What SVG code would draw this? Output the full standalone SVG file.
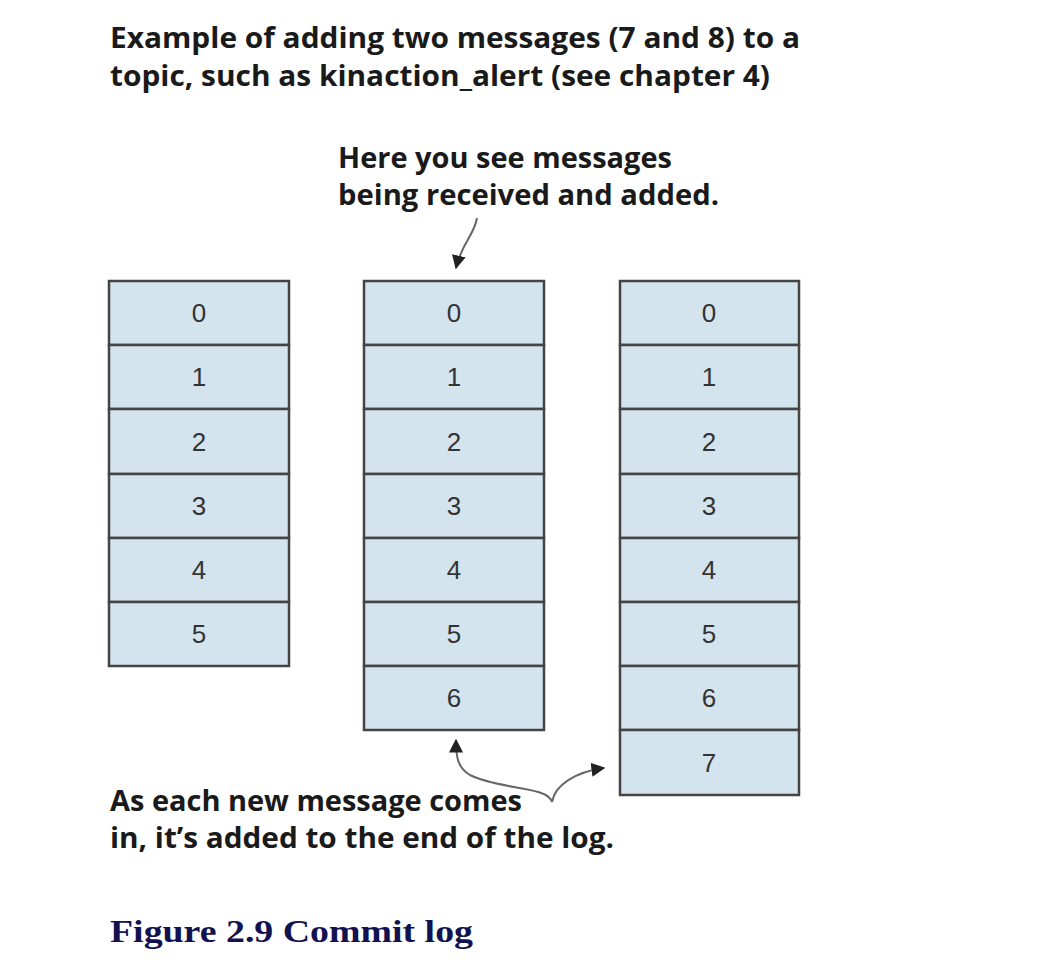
<svg xmlns="http://www.w3.org/2000/svg" width="1046" height="960" viewBox="0 0 1046 960">
<style>
.cell{fill:#d3e4ef;stroke:#444;stroke-width:2.5}
.num{font-family:"Liberation Sans",Arial,sans-serif;font-size:26px;fill:#333;text-anchor:middle}
.ann{font-family:"Open Sans","Liberation Sans",sans-serif;font-weight:bold;font-size:29px;fill:#1a1a1a}
.cap{font-family:"Liberation Serif","Times New Roman",serif;font-weight:bold;font-size:31px;fill:#121250}
.conn{fill:none;stroke:#666;stroke-width:2}
</style>
<defs>
<marker id="ah2" viewBox="0 0 10 10" refX="9" refY="5" markerWidth="14" markerHeight="14" markerUnits="userSpaceOnUse" orient="auto">
<path d="M0,0 L10,5 L0,10 z" fill="#222"/>
</marker>
</defs>
<rect width="1046" height="960" fill="#fff"/>
<g id="title">
<text class="ann" x="110" y="48" textLength="690" lengthAdjust="spacingAndGlyphs">Example of adding two messages (7 and 8) to a</text>
<text class="ann" x="110" y="86" textLength="660" lengthAdjust="spacingAndGlyphs">topic, such as kinaction_alert (see chapter 4)</text>
</g>
<g id="note-top">
<text class="ann" x="338" y="168" textLength="334" lengthAdjust="spacingAndGlyphs">Here you see messages</text>
<text class="ann" x="338" y="205" textLength="381" lengthAdjust="spacingAndGlyphs">being received and added.</text>
</g>
<g id="note-bottom">
<text class="ann" x="110" y="811" textLength="412" lengthAdjust="spacingAndGlyphs">As each new message comes</text>
<text class="ann" x="110" y="848" textLength="504" lengthAdjust="spacingAndGlyphs">in, it’s added to the end of the log.</text>
</g>
<g id="log-left">
<rect class="cell" x="109" y="281" width="180" height="64"/><text class="num" x="199" y="322">0</text>
<rect class="cell" x="109" y="345" width="180" height="64"/><text class="num" x="199" y="386">1</text>
<rect class="cell" x="109" y="409" width="180" height="65"/><text class="num" x="199" y="451">2</text>
<rect class="cell" x="109" y="474" width="180" height="64"/><text class="num" x="199" y="515">3</text>
<rect class="cell" x="109" y="538" width="180" height="64"/><text class="num" x="199" y="579">4</text>
<rect class="cell" x="109" y="602" width="180" height="64"/><text class="num" x="199" y="643">5</text>
</g>
<g id="log-middle">
<rect class="cell" x="364" y="281" width="180" height="64"/><text class="num" x="454" y="322">0</text>
<rect class="cell" x="364" y="345" width="180" height="64"/><text class="num" x="454" y="386">1</text>
<rect class="cell" x="364" y="409" width="180" height="65"/><text class="num" x="454" y="451">2</text>
<rect class="cell" x="364" y="474" width="180" height="64"/><text class="num" x="454" y="515">3</text>
<rect class="cell" x="364" y="538" width="180" height="64"/><text class="num" x="454" y="579">4</text>
<rect class="cell" x="364" y="602" width="180" height="64"/><text class="num" x="454" y="643">5</text>
<rect class="cell" x="364" y="666" width="180" height="64"/><text class="num" x="454" y="707">6</text>
</g>
<g id="log-right">
<rect class="cell" x="620" y="281" width="179" height="64"/><text class="num" x="709" y="322">0</text>
<rect class="cell" x="620" y="345" width="179" height="64"/><text class="num" x="709" y="386">1</text>
<rect class="cell" x="620" y="409" width="179" height="65"/><text class="num" x="709" y="451">2</text>
<rect class="cell" x="620" y="474" width="179" height="64"/><text class="num" x="709" y="515">3</text>
<rect class="cell" x="620" y="538" width="179" height="64"/><text class="num" x="709" y="579">4</text>
<rect class="cell" x="620" y="602" width="179" height="64"/><text class="num" x="709" y="643">5</text>
<rect class="cell" x="620" y="666" width="179" height="64"/><text class="num" x="709" y="707">6</text>
<rect class="cell" x="620" y="730" width="179" height="65"/><text class="num" x="709" y="772">7</text>
</g>
<g id="connectors">
<path class="conn" marker-end="url(#ah2)" d="M477,218 C474,236 462,242 456,268"/>
<path class="conn" marker-end="url(#ah2)" d="M552,802 C548,786 500,790 470,775 C458,768 456,758 456,740"/>
<path class="conn" marker-end="url(#ah2)" d="M552,802 C555,785 575,772 604,768"/>
</g>
<g id="caption">
<text class="cap" x="110" y="942" textLength="363" lengthAdjust="spacingAndGlyphs">Figure 2.9 Commit log</text>
</g>
</svg>
